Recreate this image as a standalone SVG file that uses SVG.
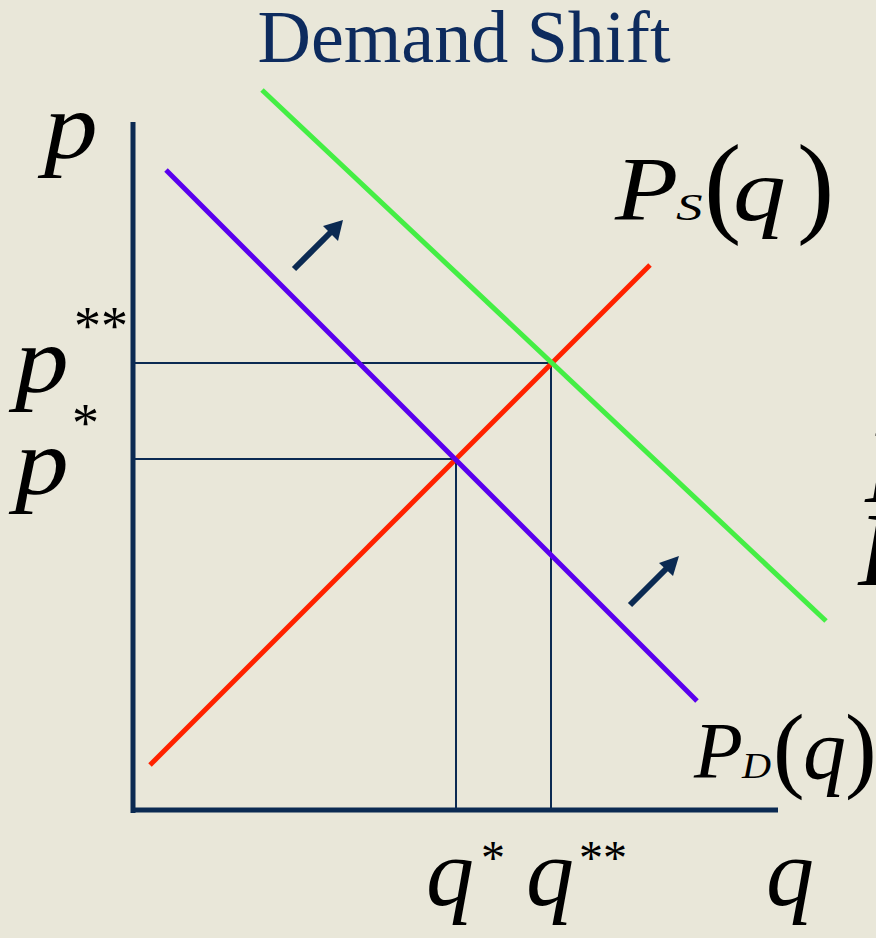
<svg xmlns="http://www.w3.org/2000/svg" width="876" height="938" viewBox="0 0 876 938">
<defs>
<style>
.t{font-family:"Liberation Serif","Times New Roman",serif;fill:#000}
.i{font-style:italic}
.axis{stroke:#0B2A52;stroke-width:5;fill:none}
.guide{stroke:#0B2A52;stroke-width:2;fill:none}
.arrow{stroke:#0B2A52;stroke-width:6;fill:none}
.head{fill:#0B2A52}
</style>
</defs>
<rect width="876" height="938" fill="#E9E7D9"/>
<text class="t" x="464" y="62" font-size="74" text-anchor="middle" style="fill:#0D2B5E">Demand Shift</text>
<g id="connectors">
<line class="guide" x1="133" y1="363" x2="551" y2="363"/>
<line class="guide" x1="551" y1="363" x2="551" y2="810"/>
<line class="guide" x1="133" y1="459" x2="456" y2="459"/>
<line class="guide" x1="456" y1="459" x2="456" y2="810"/>
</g>
<g id="axes">
<line class="axis" x1="133" y1="122" x2="133" y2="813"/>
<line class="axis" x1="131" y1="810" x2="778" y2="810"/>
</g>
<g id="supply"><line x1="150" y1="765" x2="650" y2="265" stroke="#FF2200" stroke-width="5"/></g>
<g id="demand"><line x1="166" y1="170" x2="697" y2="701" stroke="#5A00EE" stroke-width="5"/></g>
<g id="demand2"><line x1="262" y1="90" x2="826" y2="621" stroke="#44EE44" stroke-width="5"/></g>
<g id="arrow1">
<line class="arrow" x1="294" y1="269" x2="331" y2="232"/>
<polygon class="head" points="343,220 323,226 338,241"/>
</g>
<g id="arrow2">
<line class="arrow" x1="630" y1="605" x2="667" y2="568"/>
<polygon class="head" points="679,556 659,563 673,576"/>
</g>
<g id="labels">
<text class="t i" transform="translate(44,158) scale(1.12,1)" font-size="96">p</text>
<text class="t i" transform="translate(15,392) scale(1.12,1)" font-size="96">p</text>
<text class="t" x="74" y="344" font-size="54">**</text>
<text class="t" x="72" y="441" font-size="54">*</text>
<text class="t i" transform="translate(15,494) scale(1.12,1)" font-size="96">p</text>
<text class="t i" x="426" y="905" font-size="96">q</text>
<text class="t" x="481" y="874" font-size="48">*</text>
<text class="t i" x="526" y="905" font-size="96">q</text>
<text class="t" x="579" y="874" font-size="48">**</text>
<text class="t i" x="766" y="905" font-size="96">q</text>
</g>
<g id="label-ps">
<text class="t i" transform="translate(615,220) scale(1.15,1)" font-size="90">P</text>
<text class="t i" transform="translate(676,220) scale(1.4,1)" font-size="38">S</text>
<text class="t" x="704" y="222" font-size="112">(</text>
<text class="t i" transform="translate(733,220) scale(1.2,1)" font-size="88">q</text>
<text class="t" x="797" y="222" font-size="112">)</text>
</g>
<g id="label-pd">
<text class="t i" x="694" y="778" font-size="80">P</text>
<text class="t i" transform="translate(742,778) scale(1.15,1)" font-size="35">D</text>
<text class="t" x="773" y="780" font-size="95">(</text>
<text class="t i" x="803" y="778" font-size="86">q</text>
<text class="t" x="845" y="780" font-size="95">)</text>
</g>
<g id="label-edge">
<text class="t i" x="865" y="502" font-size="105">P</text>
<text class="t i" x="858" y="585" font-size="105">P</text>
</g>
</svg>
